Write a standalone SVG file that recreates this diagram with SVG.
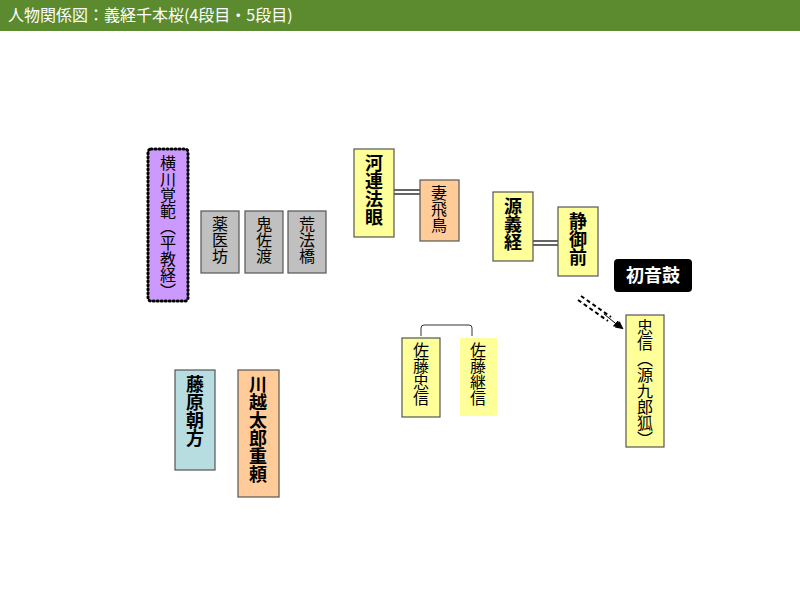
<svg xmlns="http://www.w3.org/2000/svg" width="800" height="600" viewBox="0 0 800 600">
<style>
text{font-family:"Noto Sans CJK JP","Noto Sans CJK SC",sans-serif;}
.v{writing-mode:vertical-rl;text-anchor:start;fill:#000}
.n{font-size:16px}
.b{font-size:18px;font-weight:bold}
.box{stroke:#555;stroke-width:1.2}
.y{fill:#ffff99}.o{fill:#ffcc99}.g{fill:#c0c0c0}
</style>
<defs><marker id="ah" markerWidth="8" markerHeight="8" refX="6" refY="4" orient="auto" markerUnits="userSpaceOnUse" viewBox="0 0 8 8"><path d="M0,0L8,4L0,8z" fill="#000"/></marker></defs>
<rect width="800" height="600" fill="#fff"/>
<rect width="800" height="31" fill="#5c8a2e"/>
<text x="8" y="21" font-size="16" fill="#fff">人物関係図：義経千本桜(4段目・5段目)</text>
<g id="connectors" fill="none" stroke="#333">
<path d="M394,190H420M394,194H420" stroke-width="1.5"/>
<path d="M533,241H558M533,245H558" stroke-width="1.5"/>
<path d="M421,336V328Q421,325 424,325H469Q472,325 472,328V336" stroke-width="1"/>
<path d="M578,300L608,321M581,296L611,317" stroke="#000" stroke-width="2" stroke-dasharray="4,3"/>
<path d="M600,311L622,328" stroke="none" marker-end="url(#ah)"/>
<path d="M604,314L620,327" stroke="#000" stroke-width="1" marker-end="url(#ah)"/>
</g>
<g id="n-yokokawa"><rect x="148" y="149" width="40" height="152" fill="#cc99ff" stroke="#000" stroke-width="3" stroke-dasharray="1,3" stroke-linecap="round" rx="3"/><text class="v n" x="168" y="155" font-size="16">横川覚範（平教経）</text></g>
<g id="n-yakui"><rect class="box g" x="201" y="211" width="38" height="62"/><text class="v n" x="220" y="216">薬医坊</text></g>
<g id="n-onisado"><rect class="box g" x="245" y="211" width="38" height="62"/><text class="v n" x="264" y="216">鬼佐渡</text></g>
<g id="n-arahokkyo"><rect class="box g" x="288" y="211" width="38" height="62"/><text class="v n" x="307" y="216">荒法橋</text></g>
<g id="n-kawatsura"><rect class="box y" x="354" y="149" width="40" height="88"/><text class="v b" x="374" y="154">河連法眼</text></g>
<g id="n-asuka"><rect class="box o" x="420" y="180" width="39" height="61"/><text class="v n" x="439" y="185">妻飛鳥</text></g>
<g id="n-yoshitsune"><rect class="box y" x="493" y="192" width="40" height="69"/><text class="v b" x="513" y="197">源義経</text></g>
<g id="n-shizuka"><rect class="box y" x="558" y="207" width="40" height="69"/><text class="v b" x="578" y="212">静御前</text></g>
<g id="n-hatsune"><rect x="614" y="259" width="78" height="33" rx="4" fill="#000"/><text x="653" y="282" font-size="18" font-weight="bold" fill="#fff" text-anchor="middle">初音鼓</text></g>
<g id="n-tadanobu"><rect class="box y" x="402" y="338" width="38" height="79"/><text class="v n" x="421" y="342">佐藤忠信</text></g>
<g id="n-tsuginobu"><rect x="460" y="338" width="37" height="78" fill="#ffff99"/><text class="v n" x="478" y="342">佐藤継信</text></g>
<g id="n-kitsune"><rect class="box y" x="626" y="315" width="38" height="132"/><text class="v n" x="645" y="319">忠信（源九郎狐）</text></g>
<g id="n-tomokata"><rect class="box" fill="#b7dde0" x="175" y="370" width="40" height="100"/><text class="v b" x="195" y="375">藤原朝方</text></g>
<g id="n-kawagoe"><rect class="box o" x="238" y="370" width="41" height="127"/><text class="v b" x="258" y="375">川越太郎重頼</text></g>
</svg>
